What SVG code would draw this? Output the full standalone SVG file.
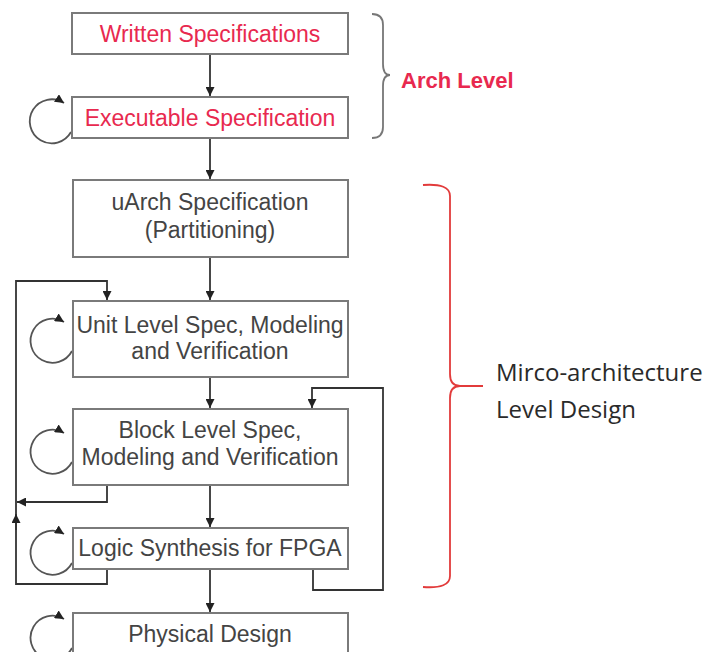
<svg xmlns="http://www.w3.org/2000/svg" width="708" height="652" viewBox="0 0 708 652">
<style>
.box{fill:#fff;stroke:#7a7a7a;stroke-width:2}
.t{font-family:"Liberation Sans",Arial,sans-serif;font-size:23px;fill:#444;text-anchor:middle}
.r{fill:#e8294f}
.c{fill:none;stroke:#333;stroke-width:1.8}
.loop{fill:none;stroke:#555;stroke-width:1.8}
</style>
<defs>
<marker id="ah" viewBox="0 0 10 10" refX="10" refY="5" markerWidth="9" markerHeight="9" markerUnits="userSpaceOnUse" orient="auto">
<path d="M0,0 L10,5 L0,10 z" fill="#222"/>
</marker>
</defs>
<rect width="708" height="652" fill="#fff"/>

<g id="connectors">
<path class="c" d="M210,54 V96" marker-end="url(#ah)"/>
<path class="c" d="M210,138 V179" marker-end="url(#ah)"/>
<path class="c" d="M210,257 V300" marker-end="url(#ah)"/>
<path class="c" d="M210,377 V408" marker-end="url(#ah)"/>
<path class="c" d="M210,485 V527" marker-end="url(#ah)"/>
<path class="c" d="M210,569 V612" marker-end="url(#ah)"/>
<path class="c" d="M313,569 V590 H383 V388 H312 V408" marker-end="url(#ah)"/>
<path class="c" d="M107,569 V584 H16 V281 H107 V300" marker-end="url(#ah)"/>
<path class="c" d="M16,530 V514" marker-end="url(#ah)"/>
<path class="c" d="M107,485 V502 H17" marker-end="url(#ah)"/>
<path class="loop" d="M71,132 A22,22 0 1 1 64,103" marker-end="url(#ah)"/>
<path class="loop" d="M72,351 A22,22 0 1 1 64,322" marker-end="url(#ah)"/>
<path class="loop" d="M72,462 A22,22 0 1 1 64,433" marker-end="url(#ah)"/>
<path class="loop" d="M72,563 A22,22 0 1 1 64,534" marker-end="url(#ah)"/>
<path class="loop" d="M72,648 A22,22 0 1 1 64,619" marker-end="url(#ah)"/>
</g>

<g id="written">
<rect class="box" x="72" y="13" width="276" height="41"/>
<text class="t r" x="210" y="42">Written Specifications</text>
</g>
<g id="executable">
<rect class="box" x="72" y="97" width="276" height="41"/>
<text class="t r" x="210" y="126">Executable Specification</text>
</g>
<g id="uarch">
<rect class="box" x="73" y="180" width="275" height="77"/>
<text class="t" x="210" y="210">uArch Specification</text>
<text class="t" x="210" y="238">(Partitioning)</text>
</g>
<g id="unit">
<rect class="box" x="73" y="301" width="275" height="76"/>
<text class="t" x="210" y="333">Unit Level Spec, Modeling</text>
<text class="t" x="210" y="359">and Verification</text>
</g>
<g id="block">
<rect class="box" x="73" y="409" width="275" height="76"/>
<text class="t" x="210" y="438">Block Level Spec,</text>
<text class="t" x="210" y="465">Modeling and Verification</text>
</g>
<g id="logic">
<rect class="box" x="73" y="528" width="275" height="41"/>
<text class="t" x="210" y="556">Logic Synthesis for FPGA</text>
</g>
<g id="physical">
<rect class="box" x="73" y="613" width="275" height="50"/>
<text class="t" x="210" y="642">Physical Design</text>
</g>

<g id="arch-brace">
<path d="M372,14 Q383,14 383,25 V64 Q383,75 390,75 Q383,75 383,86 V127 Q383,138 372,138" fill="none" stroke="#777" stroke-width="1.8"/>
<text x="401" y="88" font-family="Liberation Sans,Arial,sans-serif" font-weight="bold" font-size="22" fill="#e8294f">Arch Level</text>
</g>
<g id="micro-brace">
<path d="M423,185 Q450,183 450,196 V374 Q450,386 460,386 H483 M460,386 Q450,386 450,398 V576 Q450,589 423,587" fill="none" stroke="#e23b3b" stroke-width="1.8"/>
<text font-family="Open Sans,Noto Sans,sans-serif" font-size="24" fill="#2a2a2a">
<tspan x="496" y="381">Mirco-architecture</tspan>
<tspan x="496" y="418">Level Design</tspan>
</text>
</g>
</svg>
